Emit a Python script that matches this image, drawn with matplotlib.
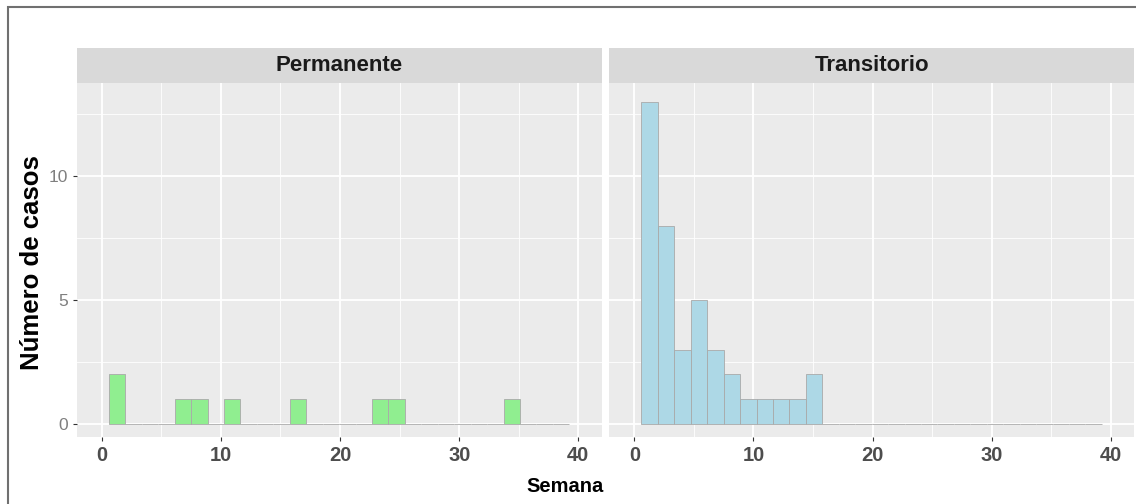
import matplotlib
matplotlib.use('Agg')
import matplotlib.pyplot as plt
from matplotlib.patches import Rectangle
import numpy as np

plt.rcParams['font.family'] = ['Liberation Sans', 'DejaVu Sans']

# datos: conteos por bin (28 bins, semanas)
bin_start = 0.6
bin_width = 1.38
perm_counts = [2, 0, 0, 0, 1, 1, 0, 1, 0, 0, 0, 1, 0, 0,
               0, 0, 1, 1, 0, 0, 0, 0, 0, 0, 1, 0, 0, 0]
trans_counts = [13, 8, 3, 5, 3, 2, 1, 1, 1, 1, 2, 0, 0, 0,
                0, 0, 0, 0, 0, 0, 0, 0, 0, 0, 0, 0, 0, 0]
facets = ['Permanente', 'Transitorio']
colors = ['#90EE90', '#ADD8E6']
x_ticks = [0, 10, 20, 30, 40]
y_ticks = [0, 5, 10]

W, H = 1136, 504
fig = plt.figure(figsize=(W / 100, H / 100), dpi=100)

# marco gris alrededor
fig.patches.append(Rectangle((8 / W, -0.1), 1.2, 1 - 7.5 / H + 0.1, transform=fig.transFigure,
                             fill=False, edgecolor='#707070', linewidth=1.5))

panel_x = [76.7, 609.3]
panel_w = 525
top, bottom = 83.3, 437.3
strip_top = 48.3

for i, (name, counts, col) in enumerate(zip(facets, [perm_counts, trans_counts], colors)):
    x0 = panel_x[i] / W
    ax = fig.add_axes([x0, 1 - bottom / H, panel_w / W, (bottom - top) / H])
    ax.set_facecolor('#EBEBEB')
    edges = bin_start + bin_width * np.arange(len(counts))
    ax.bar(edges, counts, width=bin_width, align='edge', color=col,
           edgecolor='#A9A9A9', linewidth=0.6, zorder=3)
    ax.set_xlim(-2.1, 41.96)
    ax.set_ylim(-0.54, 13.74)
    ax.set_xticks(x_ticks)
    ax.set_xticks([5, 15, 25, 35], minor=True)
    ax.set_yticks(y_ticks)
    ax.set_yticks([2.5, 7.5, 12.5], minor=True)
    ax.grid(which='major', color='white', linewidth=1.3, zorder=0)
    ax.grid(which='minor', color='white', linewidth=0.6, zorder=0)
    ax.set_axisbelow(True)
    for s in ax.spines.values():
        s.set_visible(False)
    ax.tick_params(which='minor', length=0)
    ax.tick_params(which='major', length=3, color='#333333', width=0.8)
    ax.tick_params(axis='x', pad=3)
    ax.set_xticklabels([str(t) for t in x_ticks], fontsize=14.5, fontweight='bold', color='#4D4D4D')
    if i == 0:
        ax.set_yticklabels([str(t) for t in y_ticks], fontsize=12.5, color='#7F7F7F')
    else:
        ax.tick_params(axis='y', left=False, labelleft=False)

    # franja del facet
    sax = fig.add_axes([x0, 1 - top / H, panel_w / W, (top - strip_top) / H])
    sax.set_facecolor('#D9D9D9')
    sax.set_xticks([])
    sax.set_yticks([])
    for s in sax.spines.values():
        s.set_visible(False)
    sax.text(0.5, 0.5, name, ha='center', va='center', fontsize=16,
             fontweight='bold', color='#1A1A1A', transform=sax.transAxes)

fig.text(565 / W, 1 - 487 / H, 'Semana',
         ha='center', va='center', fontsize=14.5, fontweight='bold')
fig.text(32 / W, 1 - 263 / H, 'Número de casos', rotation=90,
         ha='center', va='center', fontsize=18.5, fontweight='bold')

fig.savefig('out.png', dpi=100)
